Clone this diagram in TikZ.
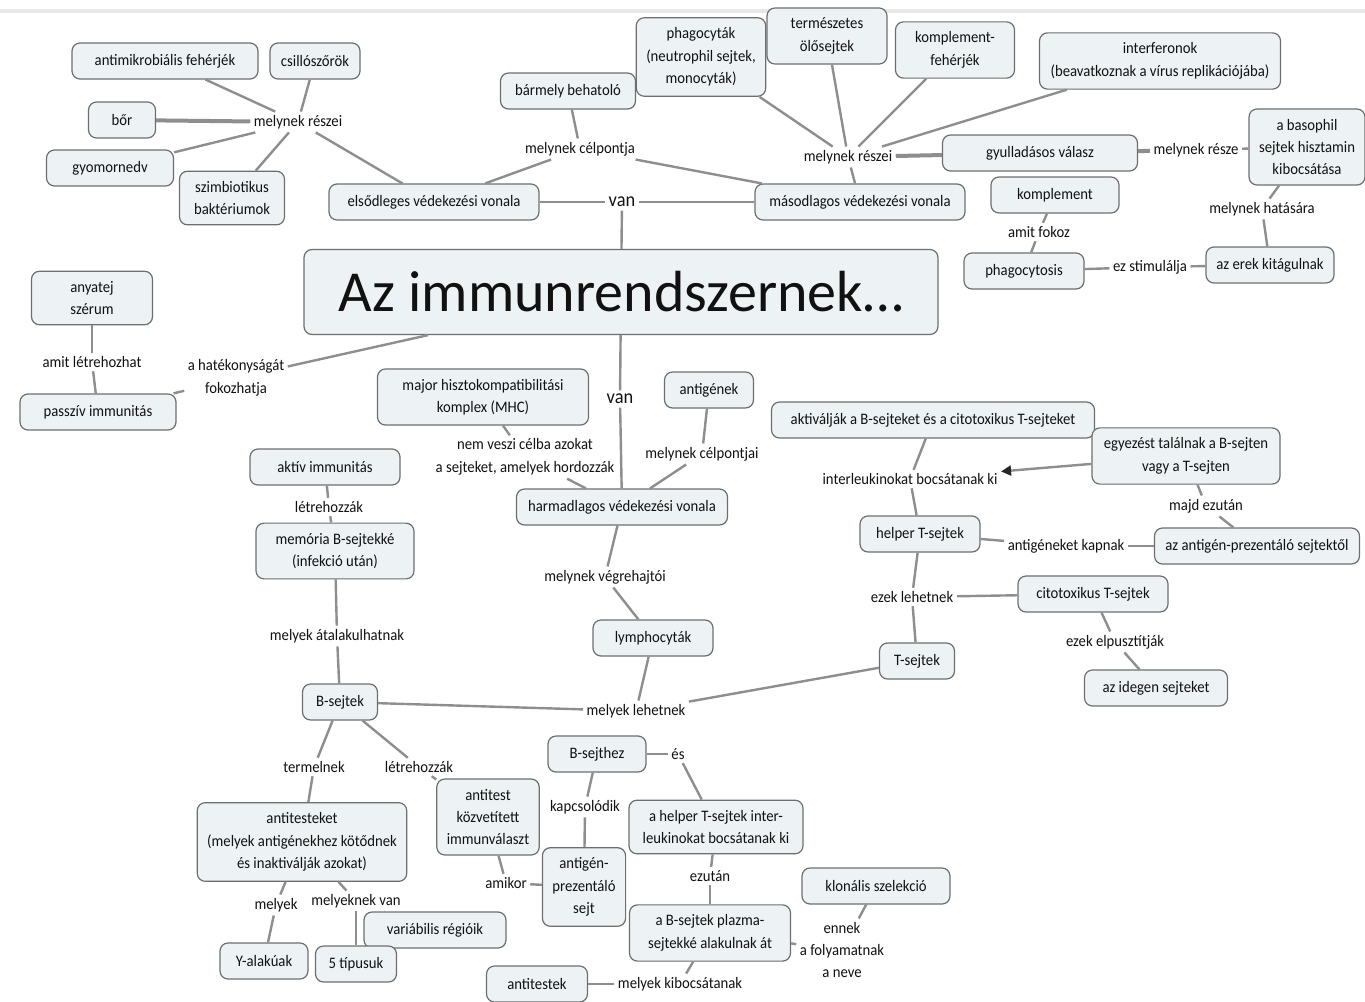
\documentclass[tikz,border=0pt]{standalone}
\usepackage{fontspec}
\setmainfont{Carlito}
\setsansfont{Carlito}[FakeStretch=0.92]
\usetikzlibrary{arrows.meta}
\definecolor{cfill}{HTML}{EDF2F5}
\definecolor{cline}{HTML}{8E8E8E}
\definecolor{cborder}{HTML}{6E6E6E}
\definecolor{ctext}{HTML}{111111}
\tikzset{
  every picture/.style={font=\sffamily\fontsize{8}{11.2}\selectfont, line width=0.6pt},
  box/.style={draw=cborder, fill=cfill, rounded corners=4pt, align=center, inner xsep=5pt, inner ysep=5pt, minimum height=18pt, text=ctext},
  bw/.style={minimum width=#1*0.5pt},
  lab/.style={fill=white, inner sep=1.5pt, align=center, text=ctext},
  link/.style={draw=cline, line width=1.2pt},
  arrow/.style={link, -{Triangle[length=5pt, width=5pt, color=black!85]}},
  title/.style={font=\fontsize{29}{32}\selectfont},
  big/.style={font=\sffamily\fontsize{10}{11}\selectfont},
}

\begin{document}
\begin{tikzpicture}[x=0.5pt, y=-0.5pt]
  \useasboundingbox (0,0) rectangle (1365,1001);
  \draw[gray!18, line width=2pt] (0,11) -- (1365,11);
  % central concept
  \node[box, title, bw=634, minimum height=42.5pt] (main) at (621,292) {Az immunrendszernek…};
  % first and second line
  \node[box, bw=186] (antimik) at (165,61) {antimikrobiális fehérjék};
  \node[box, bw=90] (csill) at (315,61) {csillószőrök};
  \node[box, bw=67] (bor) at (122,120) {bőr};
  \node[box, bw=127] (gyomor) at (110,168) {gyomornedv};
  \node[box, bw=105] (szimb) at (232,198) {szimbiotikus\\baktériumok};
  \node[box, bw=210] (elso) at (434,202) {elsődleges védekezési vonala};
  \node[box, bw=210] (masod) at (860,202) {másodlagos védekezési vonala};
  \node[box, bw=135] (behat) at (568,91) {bármely behatoló};
  \node[box, bw=120] (phago) at (701,57) {phagocyták\\(neutrophil sejtek,\\monocyták)};
  \node[box, bw=120] (olo) at (827,36) {természetes\\ölősejtek};
  \node[box, bw=119] (kompf) at (955,50) {komplement-\\fehérjék};
  \node[box, bw=241] (interf) at (1160,61) {interferonok\\(beavatkoznak a vírus replikációjába)};
  \node[box, bw=195] (gyull) at (1040,153) {gyulladásos válasz};
  \node[box, bw=105] (basoph) at (1307,147) {a basophil\\sejtek hisztamin\\kibocsátása};
  \node[box, bw=128] (kompl) at (1055,195) {komplement};
  \node[box, bw=120] (phcyt) at (1024,271) {phagocytosis};
  \node[box, bw=128] (erek) at (1270,265) {az erek kitágulnak};
  \node[box, bw=121] (anyatej) at (92,298) {anyatej\\szérum};
  \node[box, bw=156] (passziv) at (98,412) {passzív immunitás};
  % third line
  \node[box, bw=211] (mhc) at (483,397) {major hisztokompatibilitási\\komplex (MHC)};
  \node[box, bw=89] (antigen) at (709,390) {antigének};
  \node[box, bw=211] (harmad) at (622,507) {harmadlagos védekezési vonala};
  \node[box, bw=120] (lympho) at (653,638) {lymphocyták};
  \node[box, bw=150] (aktiv) at (325,467) {aktív immunitás};
  \node[box, bw=158] (memoria) at (335,551) {memória B-sejtekké\\(infekció után)};
  \node[box, bw=75] (bsejt) at (340,702) {B-sejtek};
  \node[box, bw=323] (aktival) at (933,420) {aktiválják a B-sejteket és a citotoxikus T-sejteket};
  \node[box, bw=188] (egyez) at (1186,456) {egyezést találnak a B-sejten\\vagy a T-sejten};
  \node[box, bw=205] (apcfrom) at (1257,546) {az antigén-prezentáló sejtektől};
  \node[box, bw=120] (helper) at (920,534) {helper T-sejtek};
  \node[box, bw=150] (citotox) at (1093,594) {citotoxikus T-sejtek};
  \node[box, bw=143] (idegen) at (1156,688) {az idegen sejteket};
  \node[box, bw=75] (tsejt) at (917,661) {T-sejtek};
  \node[box, bw=203] (antitesteket) at (302,842) {antitesteket\\(melyek antigénekhez kötődnek\\és inaktiválják azokat)};
  \node[box, bw=90] (akozv) at (488,817) {antitest\\közvetített\\immunválaszt};
  \node[box, bw=83] (apc) at (584,887) {antigén-\\prezentáló\\sejt};
  \node[box, bw=98] (bsejthez) at (597,754) {B-sejthez};
  \node[box, bw=174] (helperil) at (716,827) {a helper T-sejtek inter-\\leukinokat bocsátanak ki};
  \node[box, bw=161] (plazma) at (710,933) {a B-sejtek plazma-\\sejtekké alakulnak át};
  \node[box, bw=148] (klonal) at (876,886) {klonális szelekció};
  \node[box, bw=101] (antitestek) at (537,984) {antitestek};
  \node[box, bw=142] (varreg) at (435,930) {variábilis régióik};
  \node[box, bw=88] (yalak) at (264,961) {Y-alakúak};
  \node[box, bw=81] (tipus) at (356,964) {5 típusuk};
  % linking phrases
  \node[lab, big] (van1) at (622,202) {van};
  \node[lab, big] (van2) at (620,399) {van};
  \foreach \n/\x/\y/\t in {
    l1/298/122/melynek részei, l3/580/149/melynek célpontja, l4/848/157/melynek részei,
    l5/1196/150/melynek része, l6/1262/209/melynek hatására, l7/1039/232/amit fokoz,
    l8/1150/267/ez stimulálja, l9/92/362/amit létrehozhat, l10/236/378/{a hatékonyságát\\fokozhatja},
    l12/525/457/{nem veszi célba azokat\\a sejteket, amelyek hordozzák}, l13/702/454/melynek célpontjai,
    l14/605/577/melynek végrehajtói, l15/636/711/melyek lehetnek, l16/329/507/létrehozzák,
    l17/337/636/melyek átalakulhatnak, l18/910/479/interleukinokat bocsátanak ki,
    l19/1206/506/majd ezután, l20/1066/546/antigéneket kapnak, l21/912/597/ezek lehetnek,
    l22/1115/642/ezek elpusztítják, l23/314/767/termelnek, l24/419/767/létrehozzák,
    l25/506/883/amikor, l26/585/807/kapcsolódik, l27/678/754/és, l28/710/876/ezután,
    l29/842/950/{ennek\\a folyamatnak\\a neve}, l30/680/984/melyek kibocsátanak,
    l31/276/905/melyek, l32/356/901/melyeknek van}
    \node[lab] (\n) at (\x,\y) {\t};
  % connectors
  \foreach \a/\b in {l1/antimik, l1/csill, l1/gyomor, l1/szimb, l1/elso,
    elso/van1, van1/masod, van1/main, elso/l3, l3/behat, l3/masod,
    masod/l4, l4/phago, l4/olo, l4/kompf, l4/interf,
    l5/basoph, basoph/l6, l6/erek, erek/l8, l8/phcyt, kompl/l7, l7/phcyt,
    anyatej/l9, l9/passziv, main/l10, l10/passziv, main/van2, van2/harmad,
    mhc/l12, l12/harmad, antigen/l13, l13/harmad, harmad/l14, l14/lympho,
    lympho/l15, l15/bsejt, l15/tsejt, aktiv/l16, l16/memoria, memoria/l17, l17/bsejt,
    aktival/l18, l18/helper, egyez/l19, l19/apcfrom, helper/l20, l20/apcfrom,
    tsejt/l21, l21/helper, l21/citotox, citotox/l22, l22/idegen,
    bsejt/l23, l23/antitesteket, bsejt/l24, l24/akozv, akozv/l25, l25/apc,
    bsejthez/l26, l26/apc, bsejthez/l27, l27/helperil, helperil/l28, l28/plazma,
    plazma/l29, l29/klonal, plazma/l30, l30/antitestek,
    antitesteket/l31, l31/yalak, antitesteket/l32, l32/tipus, l32/varreg}
    \draw[link] (\a) -- (\b);
  % doubled (heavier) links
  \foreach \a/\b in {l1/bor, l4/gyull, gyull/l5}
    \draw[link, line width=2pt] (\a) -- (\b);
  \draw[arrow] (egyez) -- (l18);
\end{tikzpicture}
\end{document}
